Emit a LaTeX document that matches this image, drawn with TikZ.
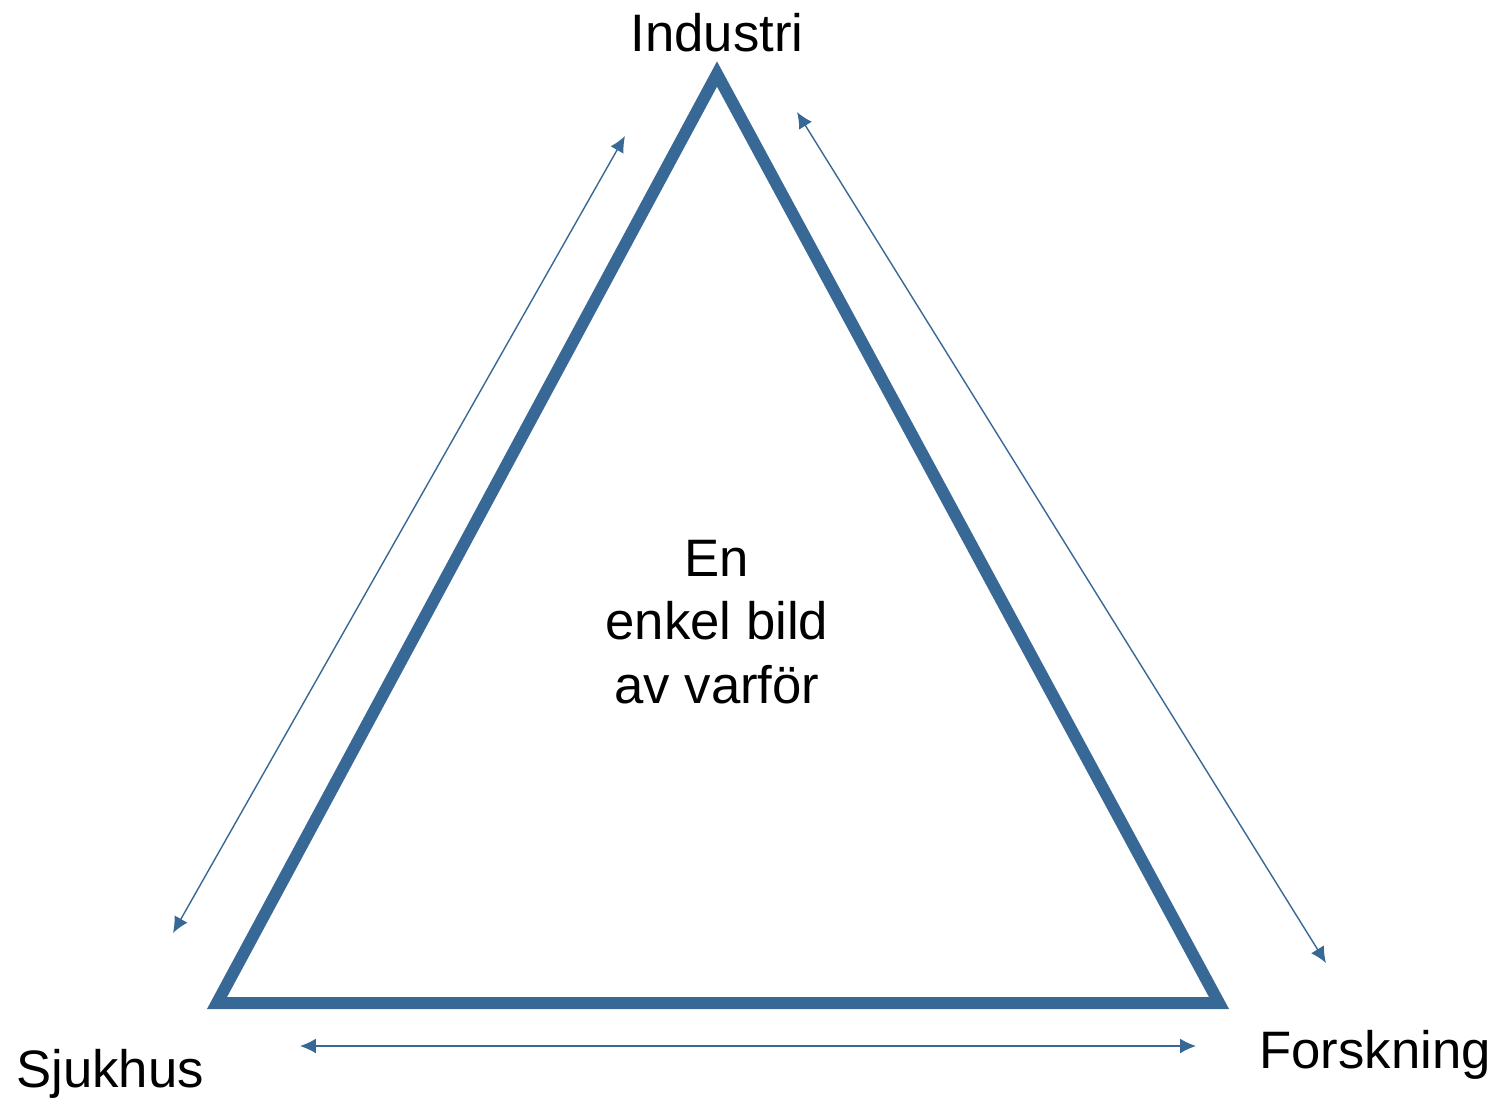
\documentclass[tikz,border=0pt]{standalone}
\usepackage{fontspec}
\setmainfont{Liberation Sans}
\usetikzlibrary{positioning,arrows.meta}

\definecolor{triblue}{RGB}{56,105,150}

\begin{document}
\begin{tikzpicture}[x=0.02cm,y=-0.02cm,
  label/.style={anchor=base,inner sep=0pt,font=\fontsize{30}{36}\selectfont},
  flow/.style={<->,>={Latex[length=0.32cm,width=0.3cm]},color=triblue,line width=0.8pt}]

\useasboundingbox (0,0) rectangle (1502,1100);

% corners of the triangle
\coordinate (top) at (717,74);
\coordinate (bl) at (217,1003);
\coordinate (br) at (1219,1003);
\draw[color=triblue,line width=0.24cm,line join=miter] (top)--(bl)--(br)--cycle;

\node[label] (ind) at (717,51) {Industri};
\node[label] (sju) at (110,1087) {Sjukhus};
\node[label] (for) at (1375,1068) {Forskning};
\node[label,align=center,anchor=north] (mid) at (717,540) {En\\enkel bild\\av varför};

% ends of the arrows
\coordinate (lA) at (173,933);
\coordinate (lB) at (625,136);
\coordinate (rA) at (797,112);
\coordinate (rB) at (1326,963);
\coordinate (bA) at (300,1046);
\coordinate (bB) at (1196,1046);

\draw[flow](lA)--(lB);
\draw[flow](rA)--(rB);
\draw[flow](bA)--(bB);
\end{tikzpicture}
\end{document}
